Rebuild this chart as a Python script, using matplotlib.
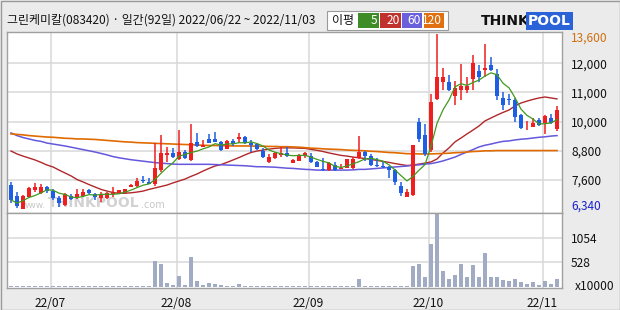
import numpy as np
import pandas as pd
import matplotlib
matplotlib.use('Agg')
import matplotlib.pyplot as plt
from matplotlib.patches import Rectangle

plt.rcParams['font.family'] = ['Noto Sans CJK KR', 'DejaVu Sans']

# 거래일 2022/06/22 ~ 2022/11/03 (휴장일 제외)
holidays = ['2022-08-15', '2022-09-09', '2022-09-12', '2022-10-03', '2022-10-10']
dates = pd.bdate_range('2022-06-22', '2022-11-03')
dates = dates[~dates.isin(pd.to_datetime(holidays))]

opens = [7340, 6890, 6350, 6860, 7120, 7000, 7250, 7090, 6820, 6510,
         6890, 6790, 6900, 7140, 6970, 6820, 6800, 6970, 6980, 7020,
         7270, 7300, 7550, 7480, 7380, 7960, 8590, 8680, 8420, 8720,
         8380, 9110, 8930, 9240, 9250, 9110, 8830, 9170, 9240, 9320,
         9100, 9040, 8760, 8310, 8450, 8590, 8680, 8270, 8350, 8540,
         8560, 8310, 8010, 7960, 8170, 8020, 8060, 8060, 8450, 8710,
         8560, 8170, 8100, 8080, 7960, 7310, 6860, 6940, 9950, 9420,
         8790, 10900, 11600, 11600, 11050, 11300, 11300, 11750, 12050, 12100,
         12300, 11950, 10950, 10900, 10850, 10250, 9730, 9760, 10050, 9900,
         10100, 9650]
highs = [7480, 7050, 6930, 7270, 7410, 7380, 7300, 7160, 6890, 7000,
         6970, 7160, 7180, 7180, 7000, 7070, 7040, 7270, 7140, 7190,
         7380, 7630, 7720, 7620, 9070, 9420, 8930, 8860, 9620, 8790,
         9870, 9510, 9210, 9460, 9550, 9170, 9210, 9260, 9490, 9370,
         9210, 9070, 8860, 8630, 8720, 8900, 8900, 8430, 8630, 8700,
         8660, 8350, 8450, 8300, 8280, 8210, 8430, 8520, 9370, 8760,
         8620, 8460, 8340, 8130, 7990, 7470, 7160, 9020, 10100, 9870,
         11100, 13600, 12200, 11900, 11650, 12350, 11800, 12750, 12300, 13200,
         12650, 12150, 11200, 11100, 10950, 10300, 10000, 10100, 10100, 10250,
         10300, 10600]
lows = [6610, 6390, 6340, 6830, 7070, 6970, 7020, 6720, 6440, 6490,
        6720, 6760, 6860, 6970, 6720, 6650, 6780, 6860, 6970, 7000,
        7250, 7270, 7410, 7370, 7300, 7890, 8310, 8450, 8380, 8410,
        8340, 8930, 8900, 9070, 9110, 8760, 8820, 8960, 9070, 9040,
        8720, 8790, 8470, 8270, 8420, 8520, 8520, 8240, 8330, 8450,
        8240, 8080, 7940, 7940, 7940, 8010, 8050, 8020, 8410, 8340,
        8140, 8100, 8050, 7620, 7340, 6900, 6830, 6900, 9140, 8540,
        8720, 10850, 11300, 11250, 10650, 10850, 11150, 11300, 11600, 11800,
        12050, 10850, 10450, 10650, 9970, 9680, 9620, 9730, 9790, 9440,
        9870, 9590]
closes = [6720, 6470, 6890, 7220, 7240, 7270, 7110, 6790, 6610, 6970,
          6750, 6970, 7040, 7000, 6830, 6930, 7000, 7020, 7120, 7160,
          7360, 7520, 7510, 7380, 8060, 8680, 8680, 8520, 8720, 8450,
          9070, 8970, 9000, 9100, 9140, 8790, 9170, 9040, 9340, 9100,
          9000, 8820, 8520, 8520, 8660, 8680, 8540, 8380, 8590, 8680,
          8280, 8100, 7960, 8270, 7960, 8060, 8410, 8410, 8710, 8540,
          8170, 8140, 8080, 7960, 7480, 7000, 7040, 9020, 9250, 8630,
          10800, 11800, 11800, 11300, 11350, 11450, 11450, 12400, 11800, 12200,
          12100, 11050, 10650, 10850, 10150, 9720, 9760, 9900, 9830, 10200,
          9900, 10450]
# 거래량 (x10000주)
volumes = [22, 22, 22, 22, 22, 22, 22, 22, 22, 22,
           22, 22, 22, 22, 22, 22, 22, 22, 22, 22,
           22, 22, 22, 22, 560, 495, 80, 40, 235, 40,
           650, 125, 40, 88, 60, 40, 22, 22, 60, 22,
           22, 22, 22, 22, 22, 22, 22, 22, 22, 22,
           22, 22, 22, 22, 22, 22, 22, 22, 170, 22,
           22, 22, 22, 22, 22, 22, 22, 455, 500, 218,
           915, 1581, 350, 170, 255, 500, 218, 475, 218, 720,
           218, 218, 146, 125, 170, 110, 65, 110, 37, 125,
           65, 170]
ma20 = [8750, 8630, 8540, 8460, 8380, 8280, 8170, 8090, 7960, 7840,
        7720, 7570, 7470, 7360, 7260, 7160, 7090, 7030, 7000, 7000,
        7020, 7050, 7090, 7160, 7220, 7280, 7340, 7430, 7510, 7590,
        7700, 7800, 7920, 8030, 8130, 8190, 8280, 8380, 8480, 8590,
        8690, 8750, 8790, 8830, 8860, 8880, 8880, 8880, 8870, 8860,
        8820, 8780, 8730, 8670, 8620, 8570, 8540, 8500, 8470, 8440,
        8400, 8360, 8320, 8280, 8230, 8190, 8150, 8170, 8210, 8250,
        8300, 8420, 8670, 8880, 9130, 9290, 9460, 9620, 9790, 10000,
        10120, 10240, 10350, 10450, 10620, 10740, 10820, 10890, 10950, 10990,
        10950, 10910]
ma60 = [9500, 9390, 9310, 9250, 9190, 9150, 9080, 9040, 9000, 8960,
        8910, 8860, 8810, 8760, 8710, 8650, 8590, 8520, 8470, 8430,
        8390, 8360, 8330, 8300, 8270, 8250, 8230, 8210, 8200, 8200,
        8200, 8200, 8200, 8200, 8190, 8180, 8170, 8160, 8150, 8140,
        8120, 8100, 8100, 8090, 8080, 8060, 8040, 8030, 8010, 7990,
        7980, 7960, 7960, 7960, 7960, 7960, 7960, 7970, 7990, 7990,
        8010, 8030, 8050, 8070, 8090, 8110, 8130, 8160, 8180, 8210,
        8230, 8280, 8340, 8420, 8500, 8610, 8710, 8810, 8920, 8990,
        9040, 9100, 9150, 9170, 9210, 9240, 9260, 9290, 9320, 9340,
        9370, 9390]
ma120 = [9460, 9440, 9420, 9390, 9370, 9350, 9330, 9320, 9300, 9280,
         9270, 9250, 9250, 9240, 9230, 9210, 9190, 9170, 9150, 9130,
         9120, 9100, 9090, 9080, 9070, 9060, 9050, 9040, 9030, 9020,
         9010, 9000, 8990, 8980, 8980, 8970, 8970, 8960, 8960, 8960,
         8960, 8950, 8950, 8940, 8940, 8930, 8930, 8920, 8910, 8890,
         8870, 8860, 8840, 8830, 8820, 8810, 8790, 8780, 8770, 8760,
         8740, 8730, 8710, 8690, 8680, 8660, 8640, 8640, 8630, 8630,
         8630, 8640, 8650, 8660, 8680, 8690, 8710, 8730, 8740, 8760,
         8760, 8770, 8770, 8770, 8770, 8770, 8770, 8770, 8770, 8770,
         8770, 8770]

price_ticks = np.linspace(6340, 13600, 7)[1:-1]
price_labels = ['7,600', '8,800', '10,000', '11,000', '12,000']
vol_ticks = [528, 1054]

df = pd.DataFrame({'open': opens, 'high': highs, 'low': lows, 'close': closes,
                   'vol': volumes}, index=dates)
df['ma5'] = df['close'].rolling(5, min_periods=1).mean()
x = np.arange(len(df))

UP, DOWN = '#f01e1e', '#1e5ee6'
GRID = '#d9d9d9'
EDGE = '#a0a0a0'
W, H = 620, 310


def px_box(l, t, r, b):
    return [l / W, 1 - b / H, (r - l) / W, (b - t) / H]


fig = plt.figure(figsize=(6.2, 3.1), dpi=100)
fig.patch.set_facecolor('#ebebeb')
ax = fig.add_axes(px_box(7, 32, 562, 212.5))
axv = fig.add_axes(px_box(7, 212.5, 562, 288.3), sharex=ax)

# 월 구분선
month_idx = [i for i in range(1, len(df)) if dates[i].month != dates[i - 1].month]
month_pos = [i - 0.42 for i in month_idx]
month_lab = [dates[i].strftime('%y/%m') for i in month_idx]

for a in (ax, axv):
    a.set_facecolor('white')
    for s in a.spines.values():
        s.set_color(EDGE)
        s.set_linewidth(1)
    a.set_xticks(month_pos)
    a.grid(color=GRID, lw=1.1)
    a.set_axisbelow(True)
    a.yaxis.tick_right()
    a.tick_params(axis='y', length=0, pad=6.5, labelsize=8.6, labelcolor='#111111')
    a.tick_params(axis='x', length=0)

ax.set_xlim(-0.67, 91.83)
ax.set_ylim(6203, 13683)
ax.set_yticks(price_ticks)
ax.set_yticklabels(price_labels)
ax.tick_params(axis='x', labelbottom=False)

# 캔들
up = df['close'] >= df['open']
colors = np.where(up, UP, DOWN)
body_lo = np.minimum(df['open'], df['close'])
body_h = np.maximum((df['close'] - df['open']).abs(), 30)
ax.vlines(x, df['low'], df['high'], colors=colors, lw=1.1, zorder=3)
ax.bar(x, body_h, bottom=body_lo, width=0.74, color=colors, lw=0, zorder=4)

# 이동평균선
ax.plot(x, df['ma5'], color='#3f9a1f', lw=0.9, zorder=5)
ax.plot(x, ma20, color='#b0282a', lw=1.0, zorder=2)
ax.plot(x, ma60, color='#6458dc', lw=1.1, zorder=2)
ax.plot(x, ma120, color='#e06a00', lw=1.2, zorder=2)

# 워터마크
ax.text(22 / W, 1 - 205 / H, 'www.', transform=fig.transFigure, fontsize=6.5,
        color='#c8c8c8', va='center', zorder=1, family='DejaVu Sans')
ax.text(48 / W, 1 - 203 / H, 'THINKPOOL', transform=fig.transFigure, fontsize=10,
        fontweight='bold', color='#d2d2d2', va='center', zorder=1, family='DejaVu Sans')
ax.text(141 / W, 1 - 205 / H, '.com', transform=fig.transFigure, fontsize=7,
        color='#c8c8c8', va='center', zorder=1, family='DejaVu Sans')

# 거래량
axv.bar(x, df['vol'], width=0.8, color='#a2abc4', lw=0)
axv.set_ylim(-28, 1594)
axv.set_yticks(vol_ticks)
axv.set_yticklabels([str(v) for v in vol_ticks])
axv.set_xticklabels(month_lab)
axv.tick_params(axis='x', pad=6, labelsize=8.6, labelcolor='#111111')

# 최고/최저가 및 단위
fig.text(571 / W, 1 - 38.5 / H, '13,600', color='#d0700f', fontsize=8.6, va='center')
fig.text(571 / W, 1 - 206.5 / H, '6,340', color='#1a20cc', fontsize=8.6, va='center')
fig.text(575 / W, 1 - 286.5 / H, 'x10000', color='#111111', fontsize=8.6, va='center')

# 제목
fig.text(7 / W, 1 - 20.5 / H, '그린케미칼(083420) · 일간(92일) 2022/06/22 ~ 2022/11/03',
         fontsize=8.6, color='#111111', va='center')

# 이평 범례
fig.patches.append(Rectangle((327 / W, 1 - 29.5 / H), 121 / W, 18 / H,
                             transform=fig.transFigure, facecolor='white',
                             edgecolor='#9a9a9a', lw=0.8))
fig.text(332 / W, 1 - 20.5 / H, '이평', fontsize=8.6, color='#111111', va='center')
legend_cells = [('5', 357.5, 378.5, '#3e8c28'), ('20', 380, 401, '#c0302c'),
                ('60', 402, 422, '#6a60dc'), ('120', 423.5, 443.5, '#e07010')]
for lab, l, r, c in legend_cells:
    fig.patches.append(Rectangle((l / W, 1 - 27.5 / H), (r - l) / W, 14 / H,
                                 transform=fig.transFigure, facecolor=c, lw=0))
    fig.text((r - 1.5) / W, 1 - 20.5 / H, lab, fontsize=8.6, color='white',
             va='center', ha='right')

# 로고
fig.text(481 / W, 1 - 21 / H, 'THINK', fontsize=10, fontweight='bold',
         color='#111111', va='center', family='DejaVu Sans')
fig.text(528 / W, 1 - 21 / H, 'POOL', fontsize=10, fontweight='bold',
         color='white', va='center', family='DejaVu Sans',
         bbox=dict(boxstyle='square,pad=0.12', facecolor='#2a62d8', lw=0))

# 바깥 테두리
fig.patches.append(Rectangle((0.5 / W, 0.5 / H), 619 / W, 309 / H,
                             transform=fig.transFigure, fill=False,
                             edgecolor='#9a9a9a', lw=1))

fig.savefig('out.png', dpi=100, facecolor=fig.get_facecolor())
